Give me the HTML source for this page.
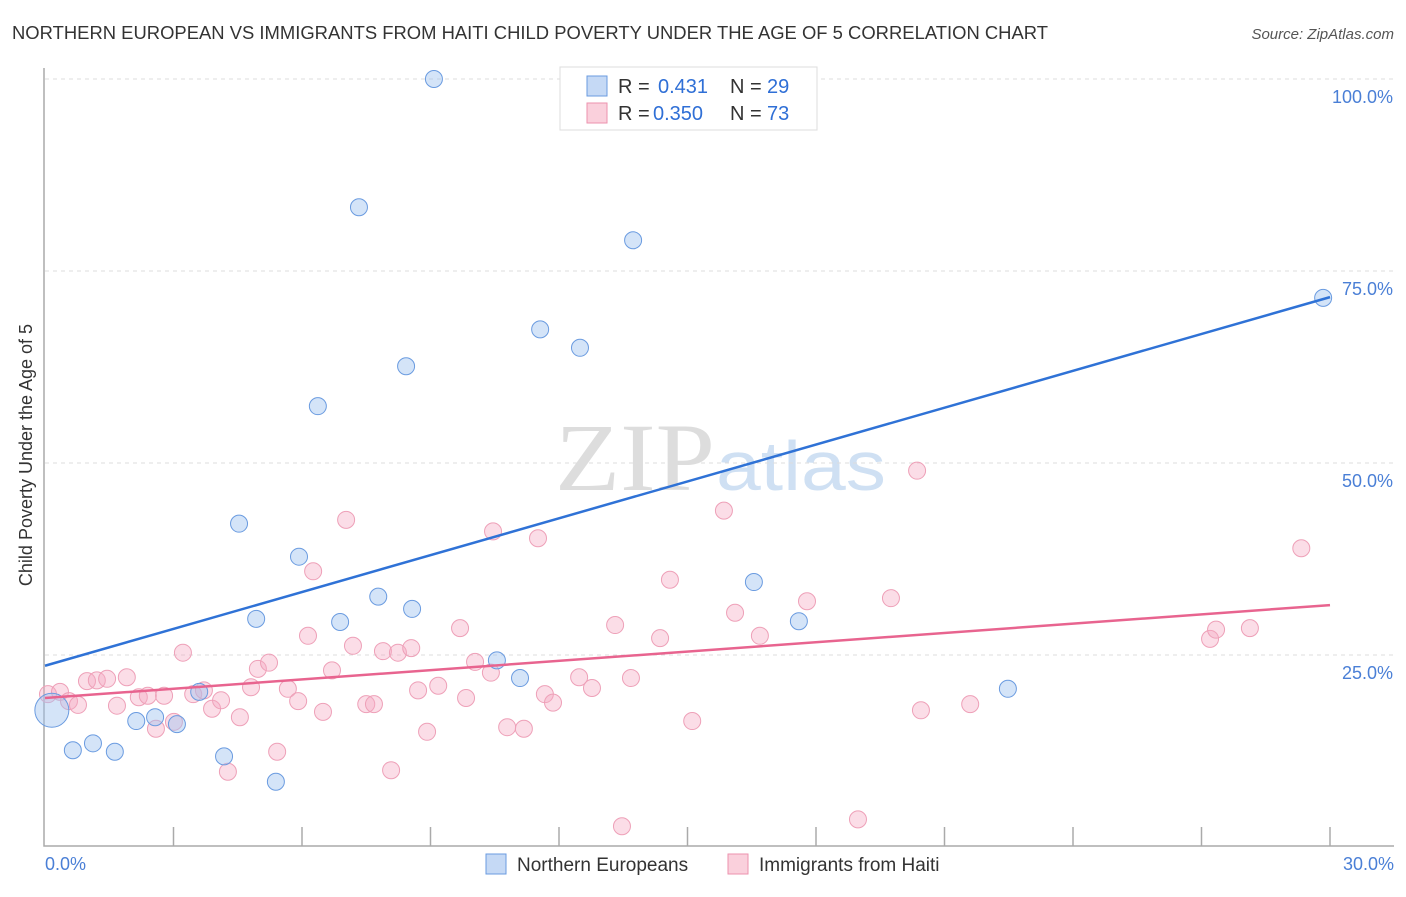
<!DOCTYPE html>
<html><head><meta charset="utf-8"><style>
body{margin:0;background:#fff;width:1406px;height:892px;overflow:hidden;font-family:"Liberation Sans",sans-serif}
</style></head><body>
<svg id="chart" width="1406" height="892">
<text x="12" y="39" font-size="18" fill="#333" textLength="1036" lengthAdjust="spacingAndGlyphs">NORTHERN EUROPEAN VS IMMIGRANTS FROM HAITI CHILD POVERTY UNDER THE AGE OF 5 CORRELATION CHART</text>
<text x="1394" y="39" font-size="15" fill="#555" font-style="italic" text-anchor="end">Source: ZipAtlas.com</text>
<text x="555" y="490" font-size="96" fill="#ddd" textLength="160" lengthAdjust="spacingAndGlyphs" font-family="Liberation Serif,serif">ZIP</text>
<text x="716" y="490" font-size="70" fill="#cfe0f3" textLength="170" lengthAdjust="spacingAndGlyphs">atlas</text>
<g id="grid"></g><g id="axes"></g><g id="pts"></g><g id="lines"></g>
<text x="32" y="455" font-size="18" fill="#333" text-anchor="middle" transform="rotate(-90 32 455)">Child Poverty Under the Age of 5</text>
<g>
<rect x="560" y="67" width="257" height="63" fill="#fff" stroke="#ddd"/>
<rect x="587" y="76" width="20" height="20" fill="#c5d9f5" stroke="#6a9be0"/>
<rect x="587" y="103" width="20" height="20" fill="#fad0dc" stroke="#ec92ae"/>
<text x="618" y="93" font-size="20" fill="#333">R =</text><text x="658" y="93" font-size="20" fill="#2f6fd6">0.431</text>
<text x="730" y="93" font-size="20" fill="#333">N =</text><text x="767" y="93" font-size="20" fill="#2f6fd6">29</text>
<text x="618" y="120" font-size="20" fill="#333">R =</text><text x="653" y="120" font-size="20" fill="#2f6fd6">0.350</text>
<text x="730" y="120" font-size="20" fill="#333">N =</text><text x="767" y="120" font-size="20" fill="#2f6fd6">73</text>
</g>
<g>
<rect x="486" y="854" width="20" height="20" fill="#c5d9f5" stroke="#6a9be0"/>
<text x="517" y="871" font-size="19" fill="#333">Northern Europeans</text>
<rect x="728" y="854" width="20" height="20" fill="#fad0dc" stroke="#ec92ae"/>
<text x="759" y="871" font-size="19" fill="#333">Immigrants from Haiti</text>
</g>
</svg>
<script>
const xTicks=[0,3,6,9,12,15,18,21,24,27,30];
const yTicks=[25,50,75,100];
const blueX=[9.08,7.33,13.73,11.56,12.49,8.43,6.37,4.53,5.93,7.78,4.93,6.89,8.57,16.55,17.60,10.55,11.09,22.48,29.84,0.16,0.65,1.12,1.63,2.13,2.57,3.08,3.60,4.18,5.39];
const blueY=[100,83.3,79.0,67.4,65.0,62.6,57.4,42.1,37.8,32.6,29.7,29.3,31.0,34.5,29.4,24.3,22.0,20.6,71.5,17.8,12.6,13.5,12.4,16.4,16.9,16.0,20.2,11.8,8.5];
const pinkX=[0.07,0.35,0.56,0.77,0.98,1.21,1.45,1.68,1.91,2.19,2.40,2.59,2.78,3.01,3.22,3.46,3.71,3.90,4.11,4.27,4.55,4.81,4.97,5.23,5.42,5.67,5.91,6.14,6.26,6.49,6.70,7.03,7.19,7.50,7.68,7.89,8.08,8.24,8.55,8.71,8.92,9.18,9.69,9.83,10.04,10.41,10.46,10.79,11.18,11.51,11.67,11.86,12.47,12.77,13.31,13.47,13.68,14.36,14.59,15.11,15.85,16.11,16.69,17.79,18.98,19.75,20.36,20.45,21.60,27.20,27.34,28.13,29.33];
const pinkY=[19.9,20.2,19.0,18.5,21.6,21.7,21.9,18.4,22.1,19.5,19.7,15.4,19.7,16.3,25.3,19.9,20.4,18.0,19.1,9.8,16.9,20.8,23.2,24.0,12.4,20.6,19.0,27.5,35.9,17.6,23.0,42.6,26.2,18.6,18.6,25.5,10.0,25.3,25.9,20.4,15.0,21.0,28.5,19.4,24.1,22.7,41.1,15.6,15.4,40.2,19.9,18.8,22.1,20.7,28.9,2.7,22.0,27.2,34.8,16.4,43.8,30.5,27.5,32.0,3.6,32.4,49.0,17.8,18.6,27.1,28.3,28.5,38.9];
const blueLine=[23.6,71.6];
const pinkLine=[19.4,31.5];
const sx=v=>45+v*1285/30;
const sy=v=>847-v*7.68;
const NS='http://www.w3.org/2000/svg';
function mk(p,tag,a){const e=document.createElementNS(NS,tag);for(const k in a)e.setAttribute(k,a[k]);document.getElementById(p).appendChild(e);return e;}
yTicks.forEach(t=>{
 const g=mk('grid','line',{x1:45,x2:1394,y1:sy(t),y2:sy(t),stroke:'#ddd','stroke-dasharray':'4,4'});
 
 
 const l=mk('grid','text',{x:1393,y:sy(t)+24,'font-size':18,fill:'#4a7fd6','text-anchor':'end'});
 l.textContent=t.toFixed(1)+'%';
 
 
});
const ax=mk('axes','path',{d:'M44,68 V846 H1394',fill:'none',stroke:'#aaa','stroke-width':1.5});


xTicks.forEach((t,i)=>{
 if(i===0)return;
 const k=mk('axes','line',{x1:sx(t),x2:sx(t),y1:827,y2:846,stroke:'#aaa','stroke-width':1.5});
 
 
});
[[0,'start',45],[30,'end',1394]].forEach(([v,a,x])=>{
 const l=mk('axes','text',{x:x,y:870,'font-size':18,fill:'#4a7fd6','text-anchor':a});
 l.textContent=v.toFixed(1)+'%';
 
 
});
pinkX.forEach((v,i)=>{
 const c=mk('pts','circle',{cx:sx(v),cy:sy(pinkY[i]),r:8.5,fill:'rgba(246,170,195,0.4)',stroke:'#eea0b8','stroke-width':1});
 
 
});
blueX.forEach((v,i)=>{
 const c=mk('pts','circle',{cx:sx(v),cy:sy(blueY[i]),r:i===19?17:8.5,fill:'rgba(160,195,240,0.45)',stroke:'#6a9be0','stroke-width':1});
 
 
});
const bl=mk('lines','line',{x1:sx(0),y1:sy(blueLine[0]),x2:sx(30),y2:sy(blueLine[1]),stroke:'#2f72d6','stroke-width':2.5});


const pl=mk('lines','line',{x1:sx(0),y1:sy(pinkLine[0]),x2:sx(30),y2:sy(pinkLine[1]),stroke:'#e8648f','stroke-width':2.5});


</script>
</body></html>
